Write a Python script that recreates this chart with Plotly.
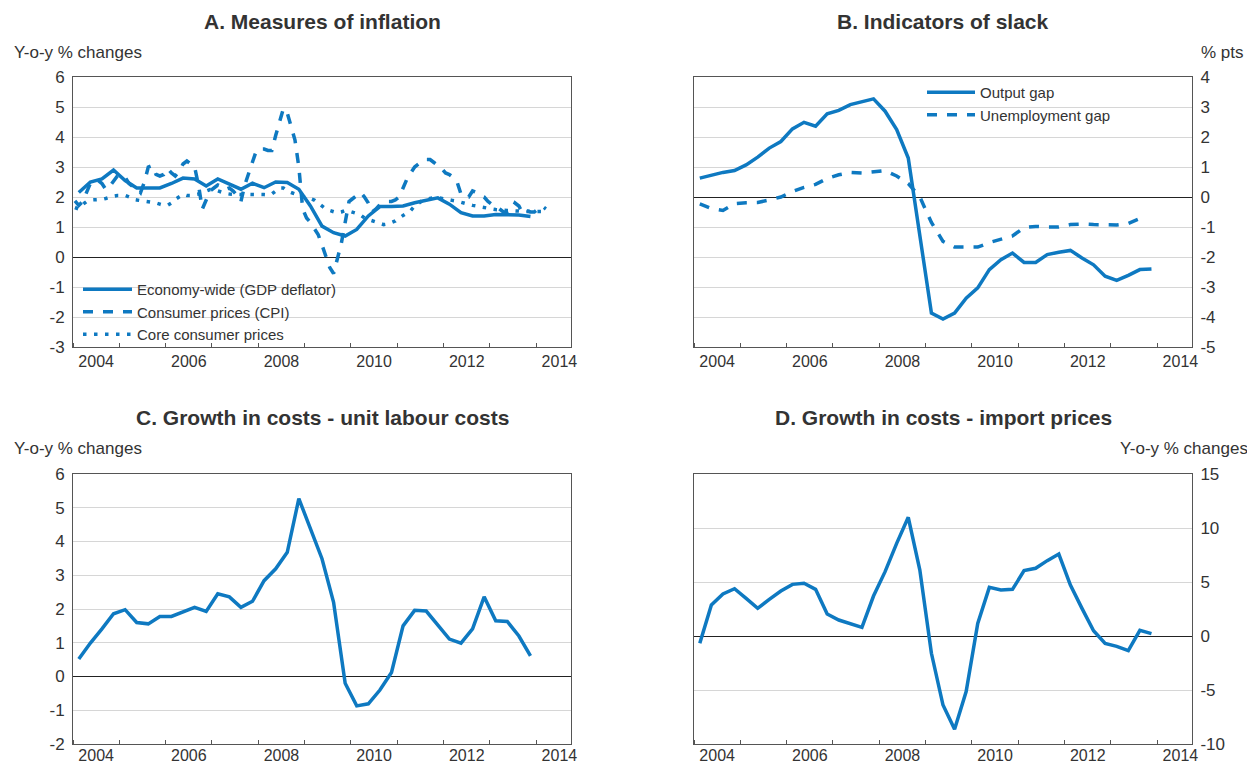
import plotly.graph_objects as go

# ---------------- data ----------------
# quarterly series 2004Q1 - 2013Q4
quarter_start_year = 2004
gdp_deflator = [2.15, 2.5, 2.6, 2.9, 2.55, 2.3, 2.3, 2.3, 2.45, 2.63, 2.6, 2.37,
                2.6, 2.44, 2.26, 2.46, 2.31, 2.5, 2.48, 2.26, 1.7, 1.03, 0.81, 0.7,
                0.92, 1.37, 1.68, 1.68, 1.7, 1.81, 1.89, 1.97, 1.76, 1.48, 1.37, 1.37,
                1.42, 1.42, 1.4, 1.35]

# monthly series 2004M1 - 2014M3
cpi = [1.87, 1.72, 1.85, 2.15, 2.45, 2.55, 2.55, 2.45, 2.25, 2.35, 2.55, 2.7,
       2.75, 2.65, 2.45, 2.35, 2.3, 2.15, 2.5, 3.0, 3.05, 2.75, 2.7, 2.75,
       2.95, 2.8, 2.7, 2.85, 3.1, 3.2, 3.1, 3.0, 2.4, 1.6, 1.9, 2.2,
       2.3, 2.4, 2.35, 2.25, 2.3, 2.2, 2.05, 1.85, 2.4, 2.8, 3.2, 3.55,
       3.6, 3.6, 3.55, 3.55, 4.05, 4.5, 4.95, 4.8, 4.35, 3.9, 3.0, 1.6,
       1.3, 1.15, 0.95, 0.75, 0.4, 0.0, -0.35, -0.55, -0.05, 0.45, 1.15, 1.85,
       1.95, 2.05, 2.15, 2.0, 1.8, 1.5, 1.6, 1.75, 1.8, 1.85, 1.85, 1.9,
       2.0, 2.3, 2.6, 2.8, 3.0, 3.1, 3.2, 3.25, 3.25, 3.15, 3.05, 2.95,
       2.8, 2.75, 2.65, 2.5, 2.1, 2.0, 2.0, 2.2, 2.15, 2.05, 2.0, 1.85,
       1.75, 1.7, 1.6, 1.5, 1.5, 1.55, 1.8, 1.7, 1.45, 1.55, 1.5, 1.5,
       1.6, 1.7, 1.6]
core_cpi = [1.65, 1.6, 1.75, 1.85, 1.9, 1.9, 1.92, 1.92, 1.95, 2.0, 2.03, 2.05,
            2.05, 2.05, 2.0, 1.92, 1.9, 1.88, 1.87, 1.85, 1.82, 1.8, 1.76, 1.72,
            1.72, 1.8, 1.92, 2.0, 2.09, 2.05, 2.05, 2.08, 2.1, 2.12, 2.2, 2.25,
            2.25, 2.2, 2.15, 2.12, 2.1, 2.09, 2.09, 2.08, 2.09, 2.09, 2.1, 2.09,
            2.09, 2.08, 2.07, 2.1, 2.2, 2.3, 2.3, 2.2, 2.15, 2.1, 2.08, 2.03,
            1.98, 1.95, 1.9, 1.8, 1.7, 1.6, 1.55, 1.5, 1.47, 1.5, 1.55, 1.53,
            1.5, 1.45, 1.4, 1.3, 1.25, 1.2, 1.15, 1.1, 1.08, 1.1, 1.15, 1.2,
            1.3, 1.38, 1.45, 1.55, 1.7, 1.8, 1.88, 1.92, 1.95, 1.98, 1.98, 1.95,
            1.92, 1.9, 1.88, 1.86, 1.82, 1.78, 1.75, 1.72, 1.7, 1.67, 1.65, 1.62,
            1.6, 1.58, 1.58, 1.56, 1.55, 1.55, 1.54, 1.53, 1.52, 1.52, 1.5, 1.5,
            1.52, 1.52, 1.52]

output_gap = [0.63, 0.74, 0.82, 0.88, 1.07, 1.33, 1.63, 1.85, 2.27, 2.49, 2.36, 2.77,
              2.89, 3.08, 3.18, 3.27, 2.86, 2.25, 1.3, -1.2, -3.87, -4.07, -3.87, -3.37,
              -3.03, -2.42, -2.09, -1.87, -2.18, -2.18, -1.92, -1.84, -1.78, -2.03, -2.26, -2.64,
              -2.78, -2.61, -2.42, -2.4]
unemployment_gap = [-0.23, -0.38, -0.45, -0.22, -0.19, -0.18, -0.1, 0.0, 0.18, 0.32, 0.42, 0.62,
                    0.74, 0.82, 0.8, 0.85, 0.88, 0.7, 0.45, 0.0, -0.85, -1.48, -1.67, -1.67,
                    -1.67, -1.52, -1.4, -1.3, -1.02, -0.98, -1.0, -1.0, -0.92, -0.9, -0.92, -0.93,
                    -0.93, -0.88, -0.72]

unit_labour_costs = [0.52, 0.99, 1.41, 1.86, 1.98, 1.6, 1.56, 1.78, 1.78, 1.92, 2.05, 1.93,
                     2.45, 2.36, 2.05, 2.23, 2.84, 3.19, 3.68, 5.27, 4.36, 3.49, 2.2, -0.2,
                     -0.87, -0.81, -0.4, 0.12, 1.5, 1.96, 1.94, 1.53, 1.11, 0.99, 1.41, 2.36,
                     1.65, 1.63, 1.2, 0.61]
import_prices = [-0.68, 2.87, 3.89, 4.38, 3.49, 2.56, 3.4, 4.17, 4.78, 4.88, 4.32, 2.04,
                 1.48, 1.17, 0.8, 3.7, 5.96, 8.58, 10.99, 6.11, -1.6, -6.39, -8.64, -5.15,
                 1.17, 4.5, 4.26, 4.32, 6.05, 6.27, 6.98, 7.59, 4.72, 2.56, 0.49, -0.68,
                 -0.96, -1.36, 0.52, 0.22]

year_labels = ["2004", "2006", "2008", "2010", "2012", "2014"]
titles = ["A. Measures of inflation", "B. Indicators of slack",
          "C. Growth in costs - unit labour costs", "D. Growth in costs - import prices"]


# time positions (decimal years, mid-period)
def quarters(n):
    return [quarter_start_year + (i + 0.5) / 4 for i in range(n)]


def months(n):
    return [quarter_start_year + (i + 0.5) / 12 for i in range(n)]


# ---------------- style ----------------
BLUE = "#0e79c1"
FONT = "Liberation Sans, Arial, Helvetica, sans-serif"
TXT = "#333333"
LW = 3.5

# the page body has an 8px margin: size the figure so it fits the 1255x765 window
OFF = 8
W, H = 1255 - OFF, 765 - OFF


def px_x(p):
    return (p - OFF) / W


def px_y(p):
    return 1 - (p - OFF) / H


fig = go.Figure()

fig.add_trace(go.Scatter(x=quarters(len(gdp_deflator)), y=gdp_deflator, mode="lines",
                         name="Economy-wide (GDP deflator)",
                         line=dict(color=BLUE, width=LW), xaxis="x", yaxis="y", legend="legend"))
fig.add_trace(go.Scatter(x=months(len(cpi)), y=cpi, mode="lines", name="Consumer prices (CPI)",
                         line=dict(color=BLUE, width=LW, dash="10px,10px"),
                         xaxis="x", yaxis="y", legend="legend"))
fig.add_trace(go.Scatter(x=months(len(core_cpi)), y=core_cpi, mode="lines",
                         name="Core consumer prices",
                         line=dict(color=BLUE, width=LW, dash="3.5px,7.5px"),
                         xaxis="x", yaxis="y", legend="legend"))

fig.add_trace(go.Scatter(x=quarters(len(output_gap)), y=output_gap, mode="lines", name="Output gap",
                         line=dict(color=BLUE, width=LW), xaxis="x2", yaxis="y2", legend="legend2"))
fig.add_trace(go.Scatter(x=quarters(len(unemployment_gap)), y=unemployment_gap, mode="lines",
                         name="Unemployment gap",
                         line=dict(color=BLUE, width=LW, dash="10px,10px"),
                         xaxis="x2", yaxis="y2", legend="legend2"))

fig.add_trace(go.Scatter(x=quarters(len(unit_labour_costs)), y=unit_labour_costs, mode="lines",
                         showlegend=False, line=dict(color=BLUE, width=LW), xaxis="x3", yaxis="y3"))
fig.add_trace(go.Scatter(x=quarters(len(import_prices)), y=import_prices, mode="lines",
                         showlegend=False, line=dict(color=BLUE, width=LW), xaxis="x4", yaxis="y4"))

left_dom = [px_x(73), px_x(571)]
right_dom = [px_x(694), px_x(1192)]
top_dom = [px_y(347), px_y(77)]
bot_dom = [px_y(744), px_y(474)]

label_vals = [int(y) + 0.5 for y in year_labels]


def xaxis(domain, anchor, standoff):
    return dict(domain=domain, anchor=anchor, range=[2004, 2014.75], automargin=False,
                tickmode="array", tickvals=label_vals, ticktext=year_labels, ticks="",
                showgrid=False, zeroline=False, showline=True, mirror=True,
                linecolor="#555555", linewidth=1, ticklabelstandoff=standoff,
                tickfont=dict(family=FONT, size=16, color=TXT),
                minor=dict(tickmode="linear", tick0=2004, dtick=1, ticks="inside",
                           ticklen=4, tickwidth=1, tickcolor="#555555", showgrid=False))


def yaxis(domain, anchor, lo, hi, step, side):
    vals = list(range(lo, hi + 1, step))
    return dict(domain=domain, anchor=anchor, range=[lo, hi], side=side, automargin=False,
                tickmode="array", tickvals=vals, ticktext=[str(v) for v in vals], ticks="",
                showgrid=True, gridcolor="#d6d6d6", gridwidth=1,
                zeroline=True, zerolinecolor="#222222", zerolinewidth=1,
                showline=True, mirror=True, linecolor="#555555", linewidth=1,
                tickfont=dict(family=FONT, size=17, color=TXT), ticklabelstandoff=4)


fig.update_layout(
    width=W, height=H, margin=dict(l=0, r=0, t=0, b=0, autoexpand=False),
    paper_bgcolor="white", plot_bgcolor="white",
    font=dict(family=FONT, size=16, color=TXT),
    xaxis=xaxis(left_dom, "y", 0), yaxis=yaxis(top_dom, "x", -3, 6, 1, "left"),
    xaxis2=xaxis(right_dom, "y2", 0), yaxis2=yaxis(top_dom, "x2", -5, 4, 1, "right"),
    xaxis3=xaxis(left_dom, "y3", -3), yaxis3=yaxis(bot_dom, "x3", -2, 6, 1, "left"),
    xaxis4=xaxis(right_dom, "y4", -3), yaxis4=yaxis(bot_dom, "x4", -10, 15, 5, "right"),
    legend=dict(x=px_x(78), y=px_y(273), xanchor="left", yanchor="top",
                bgcolor="rgba(0,0,0,0)", font=dict(family=FONT, size=15, color=TXT),
                tracegroupgap=0, itemwidth=49),
    legend2=dict(x=px_x(922), y=px_y(76), xanchor="left", yanchor="top",
                 bgcolor="rgba(0,0,0,0)", font=dict(family=FONT, size=15, color=TXT),
                 tracegroupgap=0, itemwidth=48),
)

# titles
title_pos = [((73 + 571) / 2, 22), ((694 + 1192) / 2, 22), ((73 + 571) / 2, 418), ((694 + 1192) / 2, 418)]
for t, (px, py) in zip(titles, title_pos):
    fig.add_annotation(text="<b>%s</b>" % t, x=px_x(px), y=px_y(py), xref="paper", yref="paper",
                       xanchor="center", yanchor="middle", showarrow=False,
                       font=dict(family=FONT, size=21, color=TXT))

# unit labels
units = [("Y-o-y % changes", 12, 52, "left"), ("% pts", 1246, 52, "right"),
         ("Y-o-y % changes", 12, 448, "left"), ("Y-o-y % changes", 1250, 448, "right")]
for t, px, py, anc in units:
    fig.add_annotation(text=t, x=px_x(px), y=px_y(py), xref="paper", yref="paper",
                       xanchor=anc, yanchor="middle", showarrow=False,
                       font=dict(family=FONT, size=17, color=TXT))

fig.write_html("out.html")
